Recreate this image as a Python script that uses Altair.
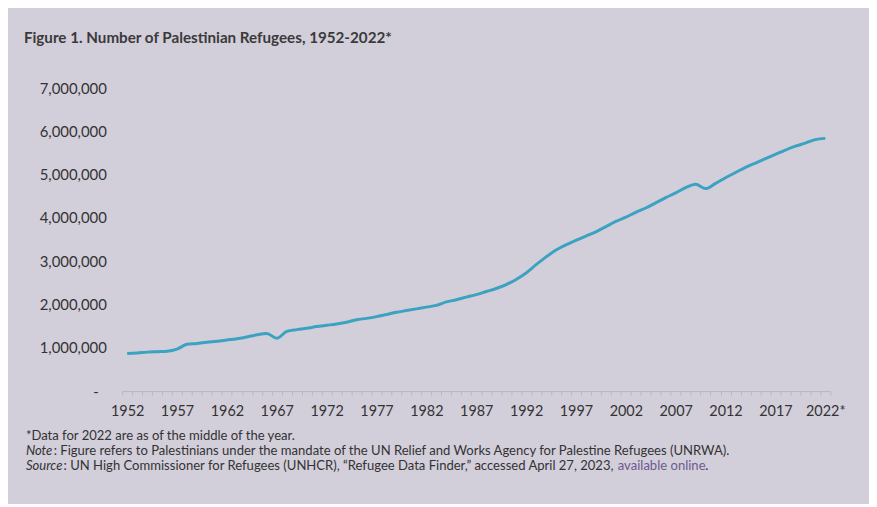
import altair as alt
import pandas as pd

years = list(range(1952, 2023))
refugees_millions = [
    0.87, 0.88, 0.90, 0.91, 0.92, 0.97, 1.08, 1.10, 1.13, 1.15,
    1.18, 1.21, 1.25, 1.30, 1.33, 1.22, 1.38, 1.42, 1.45, 1.49,
    1.52, 1.55, 1.59, 1.65, 1.68, 1.72, 1.77, 1.82, 1.86, 1.90,
    1.94, 1.98, 2.06, 2.11, 2.17, 2.23, 2.30, 2.37, 2.46, 2.58,
    2.73, 2.92, 3.10, 3.26, 3.38, 3.48, 3.58, 3.68, 3.80, 3.92,
    4.02, 4.13, 4.23, 4.35, 4.47, 4.58, 4.70, 4.78, 4.68, 4.80,
    4.93, 5.05, 5.17, 5.27, 5.37, 5.47, 5.57, 5.66, 5.73, 5.81,
    5.84,
]
y_ticks = [0, 1000000, 2000000, 3000000, 4000000, 5000000, 6000000, 7000000]

title_text = ["Figure 1. Number of Palestinian Refugees, 1952-2022*"]
note1 = ["*Data for 2022 are as of the middle of the year."]
note2_lead = ["Note"]
note2_rest = [": Figure refers to Palestinians under the mandate of the UN Relief and Works Agency for Palestine Refugees (UNRWA)."]
note3_lead = ["Source"]
note3_rest = [": UN High Commissioner for Refugees (UNHCR), \u201cRefugee Data Finder,\u201d accessed April 27, 2023,"]
note3_link = ["available online"]
note3_end = ["."]

df = pd.DataFrame({
    "year": years,
    "refugees": [round(v * 1_000_000) for v in refugees_millions],
})

boundaries = [y - 0.5 for y in years] + [years[-1] + 0.5]

FONT = "Lato"
TXT = "#333333"
NOTE_SIZE = 13.15

line = alt.Chart(df).mark_line(
    color="#3BA3C1", strokeWidth=3, interpolate="monotone"
).encode(
    x=alt.X(
        "year:Q",
        scale=alt.Scale(domain=[1951.5, 2022.5], nice=False, zero=False),
        axis=alt.Axis(
            values=boundaries,
            title=None,
            grid=False,
            domain=True,
            domainColor="#B9B5C2",
            domainWidth=1,
            ticks=True,
            tickColor="#B9B5C2",
            tickSize=4,
            labelExpr="(datum.value + 0.5 - 1952) % 5 == 0 ? (datum.value + 0.5 == 2022 ? '2022*' : '' + (datum.value + 0.5)) : ''",
            labelOffset=5,
            labelOverlap=False,
            labelFlush=False,
            labelPadding=10,
            labelFont=FONT,
            labelFontSize=14.5,
            labelColor=TXT,
        ),
    ),
    y=alt.Y(
        "refugees:Q",
        scale=alt.Scale(domain=[0, 7000000], nice=False),
        axis=alt.Axis(
            values=y_ticks,
            title=None,
            grid=False,
            domain=False,
            ticks=False,
            labelPadding={"condition": {"test": "datum.value == 0", "value": 24}, "value": 16},
            labelExpr="datum.value == 0 ? '-' : format(datum.value, ',')",
            labelFont=FONT,
            labelFontSize=15,
            labelColor=TXT,
        ),
    ),
)


def txt(values, x, y, size=NOTE_SIZE, color=TXT, weight="normal", style="normal"):
    return alt.Chart(pd.DataFrame({"t": values})).mark_text(
        align="left", baseline="middle", font=FONT, fontSize=size,
        color=color, fontWeight=weight, fontStyle=style,
    ).encode(text="t:N", x=alt.value(x), y=alt.value(y))


OX, OY = 123, 87  # plot origin on the page

layers = [
    line,
    txt(title_text, 24 - OX, 37 - OY, size=15.3, color="#3a3a3a", weight="bold"),
    txt(note1, 26 - OX, 437 - OY),
    txt(note2_lead, 26 - OX, 452 - OY, style="italic"),
    txt(note2_rest, 54 - OX, 452 - OY),
    txt(note3_lead, 26 - OX, 467 - OY, style="italic"),
    txt(note3_rest, 64 - OX, 467 - OY),
    txt(note3_link, 622 - OX, 467 - OY, color="#6E5A8E"),
    txt(note3_end, 710 - OX, 467 - OY),
]

chart = alt.layer(*layers).properties(
    width=713,
    height=305,
    autosize=alt.AutoSizeParams(type="none"),
    padding={"left": 115, "top": 79, "right": 39, "bottom": 112},
    background="#D2CEDA",
).configure_view(strokeWidth=0)

chart.save("out.html", embed_options={"renderer": "svg", "actions": False})
